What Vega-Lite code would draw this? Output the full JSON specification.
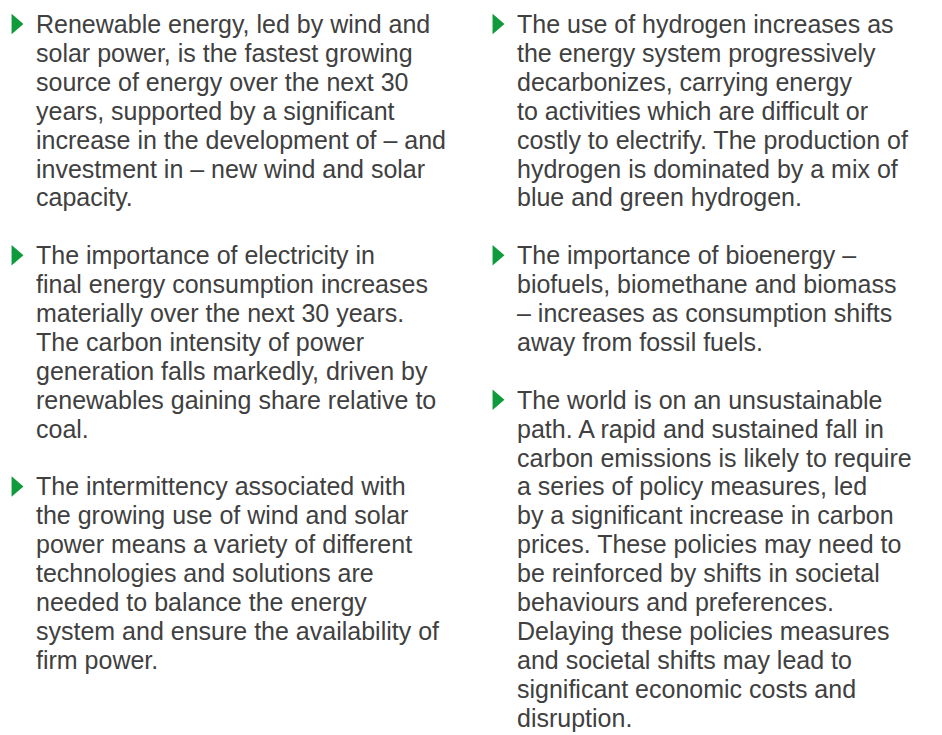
{
  "$schema": "https://vega.github.io/schema/vega-lite/v6.json",
  "width": 942,
  "height": 735,
  "autosize": {"type": "fit", "contains": "padding"},
  "padding": 0,
  "background": "#ffffff",
  "config": {"view": {"stroke": null}},
  "datasets": {
    "lines": [
      {"col": 0, "para": 0, "line": 0, "text": "Renewable energy, led by wind and"},
      {"col": 0, "para": 0, "line": 1, "text": "solar power, is the fastest growing"},
      {"col": 0, "para": 0, "line": 2, "text": "source of energy over the next 30"},
      {"col": 0, "para": 0, "line": 3, "text": "years, supported by a significant"},
      {"col": 0, "para": 0, "line": 4, "text": "increase in the development of – and"},
      {"col": 0, "para": 0, "line": 5, "text": "investment in – new wind and solar"},
      {"col": 0, "para": 0, "line": 6, "text": "capacity."},
      {"col": 0, "para": 1, "line": 8, "text": "The importance of electricity in"},
      {"col": 0, "para": 1, "line": 9, "text": "final energy consumption increases"},
      {"col": 0, "para": 1, "line": 10, "text": "materially over the next 30 years."},
      {"col": 0, "para": 1, "line": 11, "text": "The carbon intensity of power"},
      {"col": 0, "para": 1, "line": 12, "text": "generation falls markedly, driven by"},
      {"col": 0, "para": 1, "line": 13, "text": "renewables gaining share relative to"},
      {"col": 0, "para": 1, "line": 14, "text": "coal."},
      {"col": 0, "para": 2, "line": 16, "text": "The intermittency associated with"},
      {"col": 0, "para": 2, "line": 17, "text": "the growing use of wind and solar"},
      {"col": 0, "para": 2, "line": 18, "text": "power means a variety of different"},
      {"col": 0, "para": 2, "line": 19, "text": "technologies and solutions are"},
      {"col": 0, "para": 2, "line": 20, "text": "needed to balance the energy"},
      {"col": 0, "para": 2, "line": 21, "text": "system and ensure the availability of"},
      {"col": 0, "para": 2, "line": 22, "text": "firm power."},
      {"col": 1, "para": 0, "line": 0, "text": "The use of hydrogen increases as"},
      {"col": 1, "para": 0, "line": 1, "text": "the energy system progressively"},
      {"col": 1, "para": 0, "line": 2, "text": "decarbonizes, carrying energy"},
      {"col": 1, "para": 0, "line": 3, "text": "to activities which are difficult or"},
      {"col": 1, "para": 0, "line": 4, "text": "costly to electrify. The production of"},
      {"col": 1, "para": 0, "line": 5, "text": "hydrogen is dominated by a mix of"},
      {"col": 1, "para": 0, "line": 6, "text": "blue and green hydrogen."},
      {"col": 1, "para": 1, "line": 8, "text": "The importance of bioenergy –"},
      {"col": 1, "para": 1, "line": 9, "text": "biofuels, biomethane and biomass"},
      {"col": 1, "para": 1, "line": 10, "text": "– increases as consumption shifts"},
      {"col": 1, "para": 1, "line": 11, "text": "away from fossil fuels."},
      {"col": 1, "para": 2, "line": 13, "text": "The world is on an unsustainable"},
      {"col": 1, "para": 2, "line": 14, "text": "path. A rapid and sustained fall in"},
      {"col": 1, "para": 2, "line": 15, "text": "carbon emissions is likely to require"},
      {"col": 1, "para": 2, "line": 16, "text": "a series of policy measures, led"},
      {"col": 1, "para": 2, "line": 17, "text": "by a significant increase in carbon"},
      {"col": 1, "para": 2, "line": 18, "text": "prices. These policies may need to"},
      {"col": 1, "para": 2, "line": 19, "text": "be reinforced by shifts in societal"},
      {"col": 1, "para": 2, "line": 20, "text": "behaviours and preferences."},
      {"col": 1, "para": 2, "line": 21, "text": "Delaying these policies measures"},
      {"col": 1, "para": 2, "line": 22, "text": "and societal shifts may lead to"},
      {"col": 1, "para": 2, "line": 23, "text": "significant economic costs and"},
      {"col": 1, "para": 2, "line": 24, "text": "disruption."}
    ],
    "bullets": [
      {"col": 0, "para": 0, "line": 0},
      {"col": 0, "para": 1, "line": 8},
      {"col": 0, "para": 2, "line": 16},
      {"col": 1, "para": 0, "line": 0},
      {"col": 1, "para": 1, "line": 8},
      {"col": 1, "para": 2, "line": 13}
    ]
  },
  "layer": [
    {
      "data": {"name": "lines"},
      "mark": {"type": "text", "align": "left", "baseline": "alphabetic", "dy": 9, "font": "Liberation Sans", "fontSize": 25, "color": "#404040"},
      "encoding": {
        "x": {"field": "col", "type": "quantitative", "scale": {"domain": [0, 1], "range": [36, 517]}, "axis": null},
        "y": {"field": "line", "type": "quantitative", "scale": {"domain": [0, 24], "range": [24, 717.6]}, "axis": null},
        "text": {"field": "text", "type": "nominal"}
      }
    },
    {
      "data": {"name": "bullets"},
      "mark": {"type": "point", "filled": true, "opacity": 1, "shape": "M-0.58,-1L0.58,0L-0.58,1Z", "size": 420, "color": "#0f9a3c", "strokeWidth": 0},
      "encoding": {
        "x": {"field": "col", "type": "quantitative", "scale": {"domain": [0, 1], "range": [36, 517]}, "axis": null},
        "xOffset": {"value": -18.5},
        "y": {"field": "line", "type": "quantitative", "scale": {"domain": [0, 24], "range": [24, 717.6]}, "axis": null}
      }
    }
  ]
}
